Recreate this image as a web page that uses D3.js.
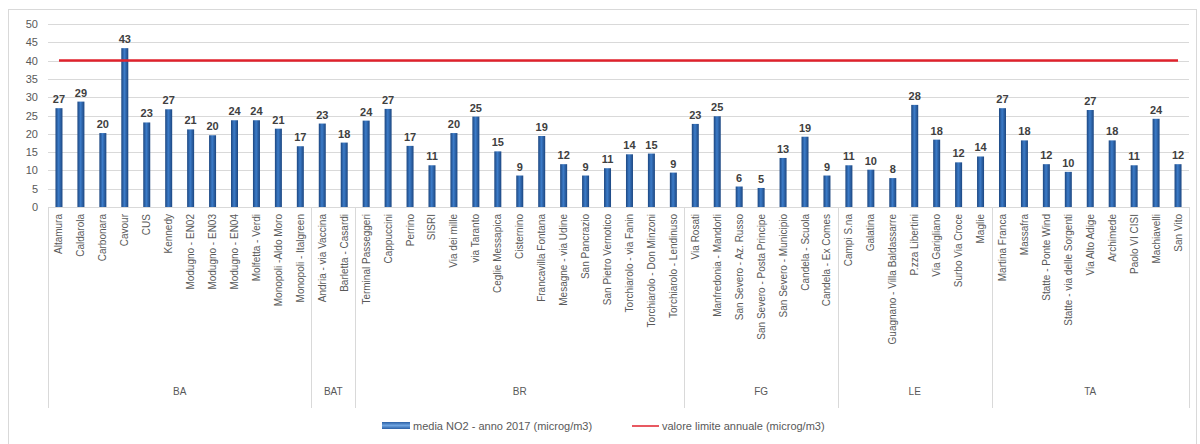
<!DOCTYPE html>
<html>
<head>
<meta charset="utf-8">
<script src="https://cdn.jsdelivr.net/npm/d3@7"></script>
<style>
  html, body { margin: 0; padding: 0; background: #fff; }
  svg { display: block; font-family: "Liberation Sans", Arial, sans-serif; }
</style>
</head>
<body>
<svg id="chart" width="1200" height="444"></svg>
<script>
const categories = [
  "Altamura","Caldarola","Carbonara","Cavour","CUS","Kennedy","Modugno - EN02","Modugno - EN03","Modugno - EN04","Molfetta - Verdi","Monopoli -Aldo Moro","Monopoli - Italgreen",
  "Andria - via Vaccina","Barletta - Casardi",
  "Terminal Passeggeri","Cappuccini","Perrino","SISRI","Via dei mille","via Taranto","Ceglie Messapica","Cisternino","Francavilla Fontana","Mesagne - via Udine","San Pancrazio","San Pietro Vernotico","Torchiarolo - via Fanin","Torchiarolo - Don Minzoni","Torchiarolo - Lendinuso",
  "Via Rosati","Manfredonia - Mandorli","San Severo - Az. Russo","San Severo - Posta Principe","San Severo - Municipio","Candela - Scuola","Candela - Ex Comes",
  "Campi S.na","Galatina","Guagnano - Villa Baldassarre","P.zza Libertini","Via Garigliano","Surbo Via Croce","Maglie",
  "Martina Franca","Massafra","Statte - Ponte Wind","Statte - via delle Sorgenti","Via Alto Adige","Archimede","Paolo VI CISI","Machiavelli","San Vito"
];
const values = [
  27.0, 28.8, 20.2, 43.4, 23.1, 26.7, 21.2, 19.6, 23.7, 23.7, 21.4, 16.6,
  22.8, 17.6,
  23.6, 26.8, 16.7, 11.4, 20.2, 24.7, 15.2, 8.6, 19.4, 11.7, 8.6, 10.6, 14.4, 14.6, 9.4,
  22.7, 24.8, 5.6, 5.2, 13.4, 19.2, 8.6,
  11.4, 10.2, 7.9, 27.9, 18.4, 12.2, 13.8,
  27.0, 18.2, 11.7, 9.6, 26.5, 18.2, 11.4, 24.1, 11.7
];
const groupNames = ["BA", "BAT", "BR", "FG", "LE", "TA"];
const groupSizes = [12, 2, 15, 7, 7, 9];
const limitValue = 40;
const yTicks = [0, 5, 10, 15, 20, 25, 30, 35, 40, 45, 50];
const legendLabels = ["media NO2 - anno 2017 (microg/m3)", "valore limite annuale (microg/m3)"];

const svg = d3.select("#chart");
const plotLeft = 48, plotRight = 1189, plotTop = 24, plotBottom = 207;

// outer border
svg.append("rect").attr("x", 8.5).attr("y", 9.5).attr("width", 1188).attr("height", 445)
  .attr("fill", "none").attr("stroke", "#d9d9d9");

const x = d3.scaleBand().domain(d3.range(categories.length)).range([plotLeft, plotRight]).padding(0);
const y = d3.scaleLinear().domain([0, 50]).range([plotBottom, plotTop]);

// gradient
const defs = svg.append("defs");
const grad = defs.append("linearGradient").attr("id", "barGrad").attr("x1", "0").attr("x2", "1").attr("y1", "0").attr("y2", "0");
grad.append("stop").attr("offset", "0%").attr("stop-color", "#1c4680");
grad.append("stop").attr("offset", "45%").attr("stop-color", "#3c7cc9");
grad.append("stop").attr("offset", "100%").attr("stop-color", "#1c4680");
const lgrad = defs.append("linearGradient").attr("id", "legGrad").attr("x1", "0").attr("x2", "0").attr("y1", "0").attr("y2", "1");
lgrad.append("stop").attr("offset", "0%").attr("stop-color", "#2a5fa5");
lgrad.append("stop").attr("offset", "50%").attr("stop-color", "#6fa4e0");
lgrad.append("stop").attr("offset", "100%").attr("stop-color", "#2a5fa5");

// gridlines
svg.append("g").selectAll("line").data(yTicks).join("line")
  .attr("x1", plotLeft).attr("x2", plotRight)
  .attr("y1", d => Math.round(y(d)) + 0.5).attr("y2", d => Math.round(y(d)) + 0.5)
  .attr("stroke", "#d9d9d9").attr("stroke-width", 1);

// y axis
const yAxis = d3.axisLeft(y).tickValues(yTicks).tickSize(0).tickPadding(0);
const yg = svg.append("g").attr("transform", `translate(${plotLeft - 10},0)`).call(yAxis);
yg.select(".domain").remove();
yg.selectAll("text").attr("fill", "#595959").style("font-size", "11px").style("font-family", "Liberation Sans, Arial, sans-serif");

// bars
const bw = 7;
svg.append("g").selectAll("rect").data(values).join("rect")
  .attr("x", (d, i) => x(i) + x.bandwidth() / 2 - bw / 2)
  .attr("width", bw)
  .attr("y", d => y(d))
  .attr("height", d => plotBottom - y(d))
  .attr("fill", "url(#barGrad)");

// data labels
svg.append("g").selectAll("text").data(values).join("text")
  .attr("x", (d, i) => x(i) + x.bandwidth() / 2)
  .attr("y", d => y(d) - 5)
  .attr("text-anchor", "middle")
  .attr("fill", "#404040")
  .style("font-size", "11px")
  .style("font-weight", "bold")
  .text(d => d3.format(".0f")(d));

// limit line
const lineGen = d3.line().x((d, i) => x(i) + x.bandwidth() / 2).y(() => y(limitValue));
svg.append("path").datum(values).attr("d", lineGen)
  .attr("fill", "none").attr("stroke", "#e0222c").attr("stroke-width", 2.5);

// category labels
svg.append("g").selectAll("text").data(categories).join("text")
  .attr("transform", (d, i) => `translate(${x(i) + x.bandwidth() / 2 + 3.5},${plotBottom + 7}) rotate(-90)`)
  .attr("text-anchor", "end")
  .attr("fill", "#595959")
  .style("font-size", "10px")
  .text(d => d);

// group separators and labels
const bounds = [0];
groupSizes.forEach(s => bounds.push(bounds[bounds.length - 1] + s));
svg.append("g").selectAll("line").data(bounds).join("line")
  .attr("x1", d => Math.round(d < categories.length ? x(d) : plotRight) + 0.5)
  .attr("x2", d => Math.round(d < categories.length ? x(d) : plotRight) + 0.5)
  .attr("y1", plotBottom).attr("y2", 408)
  .attr("stroke", "#d9d9d9");
svg.append("g").selectAll("text").data(groupNames).join("text")
  .attr("x", (d, i) => {
    const a = x(bounds[i]);
    const b = bounds[i + 1] < categories.length ? x(bounds[i + 1]) : plotRight;
    return (a + b) / 2;
  })
  .attr("y", 395)
  .attr("text-anchor", "middle")
  .attr("fill", "#595959")
  .style("font-size", "10px")
  .text(d => d);

// legend
const lg = svg.append("g").attr("transform", "translate(382,426)");
lg.append("rect").attr("x", 0).attr("y", -4).attr("width", 28).attr("height", 7).attr("fill", "url(#legGrad)");
lg.append("text").attr("x", 31).attr("y", 4).attr("fill", "#595959").style("font-size", "11px").text(legendLabels[0]);
lg.append("line").attr("x1", 250).attr("x2", 277).attr("y1", 0).attr("y2", 0).attr("stroke", "#e0222c").attr("stroke-width", 1.5);
lg.append("text").attr("x", 280).attr("y", 4).attr("fill", "#595959").style("font-size", "11px").text(legendLabels[1]);
</script>
</body>
</html>
